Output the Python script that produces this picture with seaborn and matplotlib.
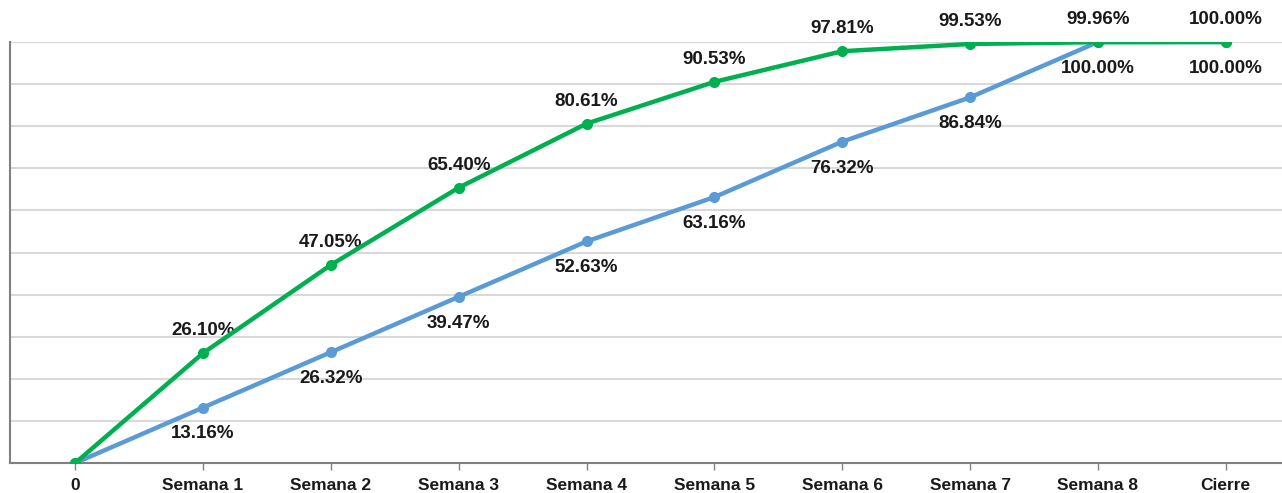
import matplotlib
matplotlib.use("Agg")
import matplotlib.pyplot as plt
import pandas as pd
import seaborn as sns

# chart data
categories = ["0", "Semana 1", "Semana 2", "Semana 3", "Semana 4", "Semana 5",
              "Semana 6", "Semana 7", "Semana 8", "Cierre"]
real = [0, 26.10, 47.05, 65.40, 80.61, 90.53, 97.81, 99.53, 99.96, 100.00]
plan = [0, 13.16, 26.32, 39.47, 52.63, 63.16, 76.32, 86.84, 100.00, 100.00]

GREEN = "#00B050"
BLUE = "#5B9BD5"

sns.set_theme(style="white")
plt.rcParams["font.family"] = ["Liberation Sans", "DejaVu Sans"]

df = pd.DataFrame({"pos": range(len(categories)), "real": real, "plan": plan})

fig = plt.figure(figsize=(12.82, 4.93), dpi=100)
ax = fig.add_axes([10 / 1282, 30 / 493, 1 - 10 / 1282, 421 / 493])

sns.lineplot(data=df, x="pos", y="plan", ax=ax, color=BLUE, lw=3.2, marker="o",
             markersize=8, markeredgewidth=0, zorder=3)
sns.lineplot(data=df, x="pos", y="real", ax=ax, color=GREEN, lw=3.2, marker="o",
             markersize=8, markeredgewidth=0, zorder=4)

# data labels: green above, blue below (skip the origin)
for i in range(1, len(categories)):
    ax.annotate(f"{real[i]:.2f}%", (i, real[i]), xytext=(0, 16), textcoords="offset points",
                ha="center", va="center", fontsize=13.5, fontweight="bold", color="#1a1a1a")
    ax.annotate(f"{plan[i]:.2f}%", (i, plan[i]), xytext=(0, -19), textcoords="offset points",
                ha="center", va="center", fontsize=13.5, fontweight="bold", color="#1a1a1a")

ax.set_xlim(-0.51, 9.44)
ax.set_ylim(0, 100)
ax.set_yticks(range(0, 101, 10))
ax.set_yticklabels([])
ax.set_xticks(range(len(categories)))
ax.set_xticklabels(categories, fontsize=12.5, fontweight="bold", color="#1a1a1a")
ax.set_xlabel("")
ax.set_ylabel("")
ax.grid(axis="y", color="#D9D9D9", lw=1.5)
ax.grid(axis="x", visible=False)

for side in ["top", "right"]:
    ax.spines[side].set_visible(False)
ax.spines["left"].set_color("#808080")
ax.spines["left"].set_linewidth(1.5)
ax.spines["bottom"].set_color("#808080")
ax.spines["bottom"].set_linewidth(1.5)
ax.tick_params(axis="y", direction="out", length=3, width=1.5, color="#404040", pad=0)
ax.tick_params(axis="x", direction="out", length=5, width=1, color="#808080", pad=6, bottom=True)

fig.savefig("out.png", dpi=100)
